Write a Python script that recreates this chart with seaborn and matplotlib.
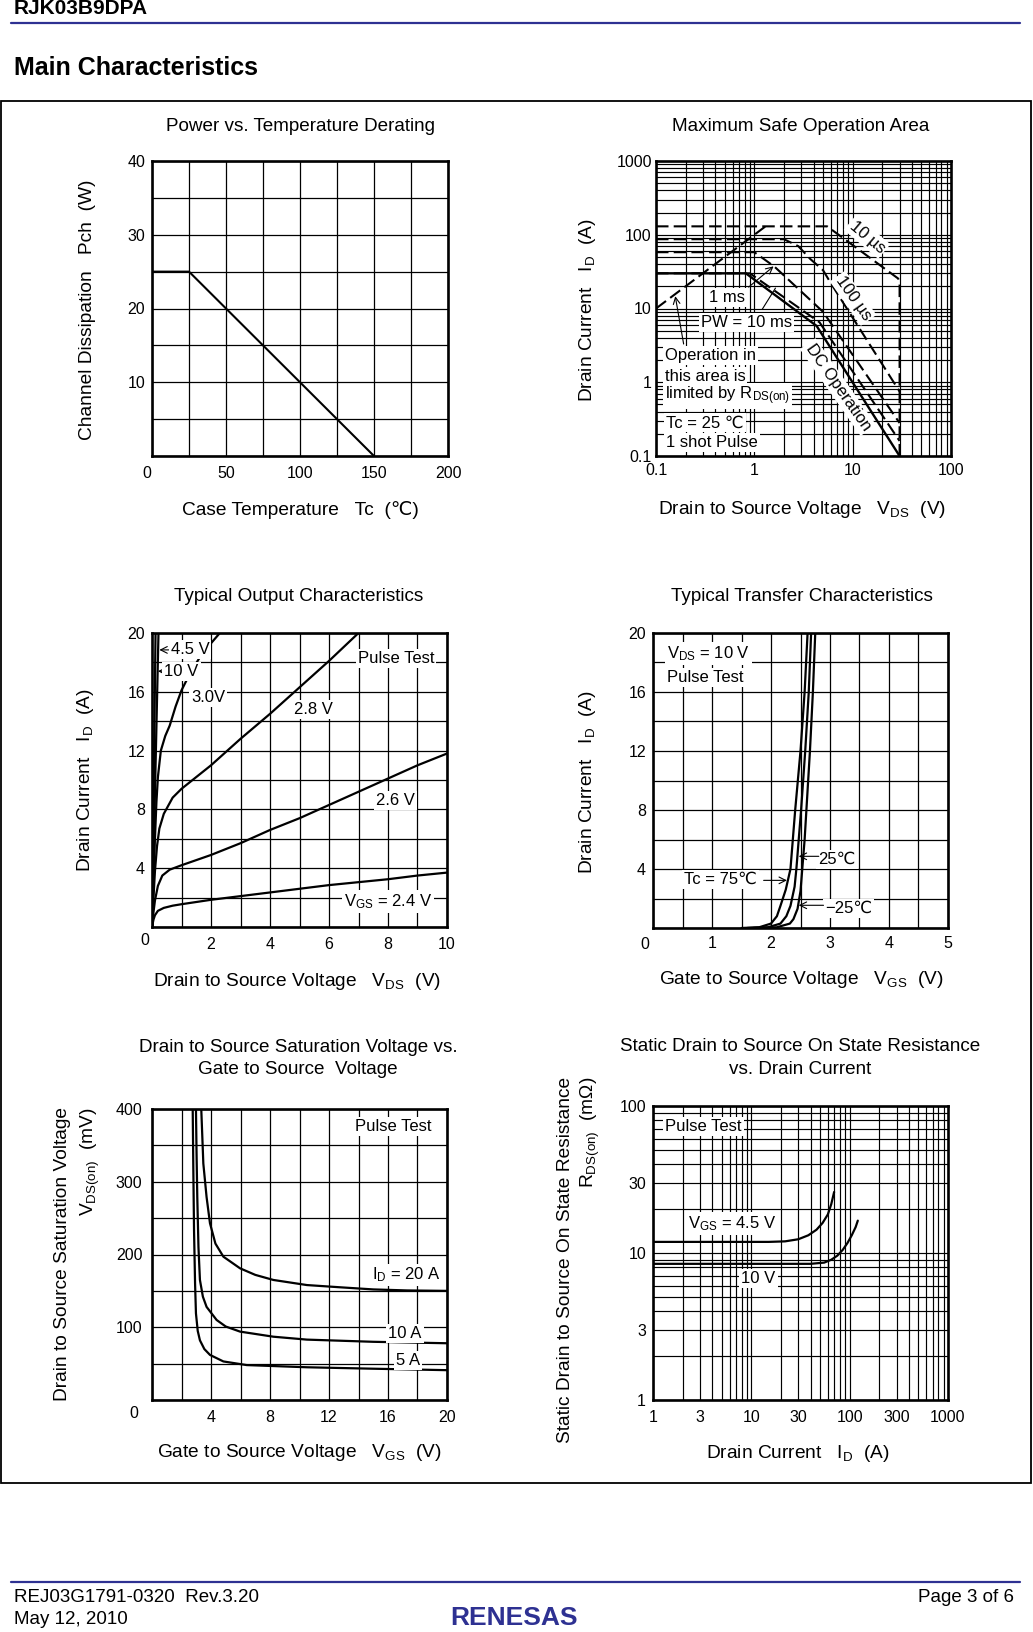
import numpy as np
import pandas as pd
import matplotlib
matplotlib.use("Agg")
import matplotlib.pyplot as plt
import seaborn as sns
from matplotlib.patches import Rectangle
from matplotlib.lines import Line2D

# ------------------------------------------------------------------ data
# Power vs. temperature derating
derate_tc = [0, 25, 150]
derate_pch = [25, 25, 0]
derate_xgrid = [0, 25, 50, 75, 100, 125, 150, 175, 200]
derate_xticks = [50, 100, 150, 200]
derate_ygrid = [0, 5, 10, 15, 20, 25, 30, 35, 40]
derate_yticks = [10, 20, 30, 40]

# Maximum safe operation area
soa_rds_v = [0.1, 1.3]
soa_rds_i = [10, 130]
soa_10us_v = [0.1, 5.5, 29.0, 30.0, 30.0]
soa_10us_i = [130, 130, 25.5, 23, 0.1]
soa_100us_v = [0.1, 2.0, 2.8, 3.7, 5.0, 6.0, 14.0, 30.0]
soa_100us_i = [87, 87, 70, 47, 33, 22, 3.7, 0.75]
soa_1ms_v = [0.1, 1.0, 1.6, 5.0, 30.0]
soa_1ms_i = [58, 58, 37, 9.0, 0.28]
soa_10ms_v = [0.1, 0.9, 4.6, 30.0]
soa_10ms_i = [30, 30, 6.5, 0.16]
soa_dc_v = [0.1, 0.82, 4.3, 30.0]
soa_dc_i = [30, 30, 5.8, 0.1]
soa_ticks = [0.1, 1, 10, 100, 1000]
soa_ticklabels = ["0.1", "1", "10", "100", "1000"]

# Typical output characteristics (VDS, ID)
out_10v_v = [0, 0.12]
out_10v_i = [0, 20]
out_45v_v = [0, 0.22]
out_45v_i = [0, 20]
out_30v_v = [0, 0.05, 0.1, 0.15, 0.2, 0.3, 0.45, 0.6, 0.8, 1.0, 1.3, 1.7, 2.3]
out_30v_i = [0, 3, 6, 8.5, 10.2, 12.0, 13.0, 13.7, 15.0, 16.1, 17.3, 18.6, 20]
out_28v_v = [0, 0.05, 0.1, 0.17, 0.25, 0.4, 0.7, 1.0, 1.5, 2, 3, 4, 5, 6, 7]
out_28v_i = [0, 2, 3.8, 5.5, 6.7, 7.7, 8.8, 9.4, 10.2, 11.0, 12.8, 14.5, 16.3, 18.1, 20]
out_26v_v = [0, 0.05, 0.1, 0.2, 0.35, 0.6, 1, 2, 3, 4, 5, 6, 7, 8, 9, 10]
out_26v_i = [0, 1.0, 1.8, 2.8, 3.5, 3.9, 4.2, 4.9, 5.7, 6.6, 7.4, 8.3, 9.2, 10.1, 11.0, 11.8]
out_24v_v = [0, 0.05, 0.1, 0.2, 0.4, 0.7, 1, 2, 3, 4, 5, 6, 7, 8, 9, 10]
out_24v_i = [0, 0.5, 0.8, 1.1, 1.3, 1.45, 1.55, 1.85, 2.1, 2.35, 2.6, 2.85, 3.05, 3.25, 3.5, 3.7]

# Typical transfer characteristics (VGS, ID)
tr_75_v = [1.5, 1.8, 2.0, 2.1, 2.16, 2.25, 2.33, 2.37, 2.41, 2.5, 2.57, 2.62]
tr_75_i = [0, 0.05, 0.3, 0.8, 1.5, 2.6, 4, 6, 8, 12, 16, 20]
tr_25_v = [1.6, 1.95, 2.16, 2.26, 2.33, 2.4, 2.43, 2.47, 2.51, 2.58, 2.64, 2.68]
tr_25_i = [0, 0.05, 0.3, 0.8, 1.5, 2.8, 4, 6, 8, 12, 16, 20]
tr_m25_v = [1.7, 2.1, 2.32, 2.38, 2.45, 2.5, 2.53, 2.57, 2.60, 2.66, 2.71, 2.75]
tr_m25_i = [0, 0.05, 0.3, 0.6, 1.3, 2.5, 4, 6, 8, 12, 16, 20]

# Drain to source saturation voltage vs gate to source voltage (VGS, mV)
sat_20a_v = [3.34, 3.48, 3.7, 3.93, 4.3, 4.84, 5.97, 7.0, 8.23, 10.5, 12.7, 15.0, 17.3, 20]
sat_20a_mv = [400, 325, 279, 243, 215, 197, 181, 172, 165, 158, 155, 152, 150.6, 150]
sat_10a_v = [2.98, 3.02, 3.07, 3.15, 3.25, 3.45, 3.7, 4.38, 5.0, 5.97, 8.23, 10.5, 15, 20]
sat_10a_mv = [400, 340, 279, 210, 165, 142, 128, 110, 101, 94, 87, 83, 80, 78]
sat_5a_v = [2.76, 2.8, 2.85, 2.92, 2.98, 3.1, 3.25, 3.55, 3.93, 4.84, 6.42, 10.5, 15, 20]
sat_5a_mv = [400, 320, 233, 160, 119, 95, 82, 70, 62, 53, 48, 45, 43, 41]

# Static drain to source on-state resistance vs drain current (A, mOhm)
rds_45_id = [1, 15, 22, 30, 38, 46, 53, 60, 65, 69.5]
rds_45_r = [11.9, 11.9, 12.0, 12.4, 13.2, 14.4, 16.0, 18.3, 21.5, 26]
rds_10_id = [1, 40, 55, 65, 75, 85, 95, 105, 115, 121]
rds_10_r = [8.44, 8.44, 8.6, 9.0, 9.6, 10.5, 11.7, 13.2, 15.0, 16.6]
rds_xticks = [1, 3, 10, 30, 100, 300, 1000]
rds_xticklabels = ["1", "3", "10", "30", "100", "300", "1000"]
rds_yticks = [1, 3, 10, 30, 100]
rds_yticklabels = ["1", "3", "10", "30", "100"]

# ------------------------------------------------------------------ style
sns.set_theme(style="white")
plt.rcParams["font.family"] = ["Liberation Sans", "DejaVu Sans"]
plt.rcParams["mathtext.fontset"] = "custom"
plt.rcParams["mathtext.rm"] = "Liberation Sans"
plt.rcParams["mathtext.it"] = "Liberation Sans:italic"
plt.rcParams["mathtext.bf"] = "Liberation Sans:bold"
for k in ["text.color", "axes.labelcolor", "xtick.color", "ytick.color", "axes.edgecolor"]:
    plt.rcParams[k] = "black"

W, H = 1033, 1632
fig = plt.figure(figsize=(W / 100, H / 100), dpi=100)
fig.patch.set_facecolor("white")

TITLE = 13.6
LABEL = 13.8
TICK = 11.5
ANN = 12
NAVY = "#2E3192"
CURVE_LW = 1.6
DASH = (0, (6, 2.5))
BOX = dict(boxstyle="square,pad=0.12", fc="white", ec="none")
SUBS = [2, 3, 4, 5, 6, 7, 8, 9]


def add_ax(x0, y0, x1, y1):
    return fig.add_axes([x0 / W, 1 - y1 / H, (x1 - x0) / W, (y1 - y0) / H])


def ftext(x, y, s, **kw):
    return fig.text(x / W, 1 - y / H, s, **kw)


def frame(ax, xpad=6, ypad=5, glw=0.9):
    ax.set_axisbelow(True)
    ax.grid(True, which="both", color="black", lw=glw)
    ax.tick_params(which="both", length=0, labelsize=TICK, colors="black")
    ax.tick_params(axis="x", which="both", pad=xpad)
    ax.tick_params(axis="y", which="both", pad=ypad)
    for sp in ax.spines.values():
        sp.set_visible(True)
        sp.set_linewidth(1.9)
        sp.set_color("black")
        sp.set_zorder(5)


def linear_axes(ax, xlim, ylim, xgrid, ygrid, xticks, yticks, xpad=6, ypad=5):
    ax.set_xlim(*xlim)
    ax.set_ylim(*ylim)
    ax.set_xticks(xgrid, minor=True)
    ax.set_yticks(ygrid, minor=True)
    ax.set_xticks(xticks)
    ax.set_xticklabels([str(v) for v in xticks])
    ax.set_yticks(yticks)
    ax.set_yticklabels([str(v) for v in yticks])
    frame(ax, xpad, ypad)


def log_axes(ax, xlim, ylim, xticks, xlabels, yticks, ylabels, xpad, ypad):
    ax.set_xlim(*xlim)
    ax.set_ylim(*ylim)
    ax.xaxis.set_major_locator(matplotlib.ticker.FixedLocator(xticks))
    ax.xaxis.set_major_formatter(matplotlib.ticker.FixedFormatter(xlabels))
    ax.xaxis.set_minor_locator(matplotlib.ticker.LogLocator(base=10, subs=SUBS))
    ax.xaxis.set_minor_formatter(matplotlib.ticker.NullFormatter())
    ax.yaxis.set_major_locator(matplotlib.ticker.FixedLocator(yticks))
    ax.yaxis.set_major_formatter(matplotlib.ticker.FixedFormatter(ylabels))
    ax.yaxis.set_minor_locator(matplotlib.ticker.LogLocator(base=10, subs=SUBS))
    ax.yaxis.set_minor_formatter(matplotlib.ticker.NullFormatter())
    frame(ax, xpad, ypad, glw=0.85)


def curve(ax, x, y, ls="-", lw=CURVE_LW):
    sns.lineplot(x=np.array(x, float), y=np.array(y, float), ax=ax, color="black",
                 linewidth=lw, linestyle=ls, sort=False, estimator=None)


# ------------------------------------------------------------------ page header / footer
ftext(14, 9, "RJK03B9DPA", fontsize=15, fontweight="bold", va="center", ha="left")
fig.add_artist(Line2D([11 / W, 1020 / W], [1 - 22.7 / H] * 2, color=NAVY, lw=1.6))
ftext(14, 68, "Main Characteristics", fontsize=18, fontweight="bold", va="center", ha="left")
fig.add_artist(Rectangle((0.8 / W, 1 - 1483 / H), 1030.5 / W, 1382 / H, fill=False,
                         ec="black", lw=1.3))
fig.add_artist(Line2D([11 / W, 1020 / W], [1 - 1582 / H] * 2, color=NAVY, lw=1.6))
ftext(14, 1597, "REJ03G1791-0320  Rev.3.20", fontsize=13.5, va="center", ha="left")
ftext(14, 1619, "May 12, 2010", fontsize=13.5, va="center", ha="left")
ftext(1014, 1597, "Page 3 of 6", fontsize=13.5, va="center", ha="right")
ftext(514, 1618, "RENESAS", fontsize=19, fontweight="bold", color=NAVY, va="center",
      ha="center")

# ------------------------------------------------------------------ 1. derating
ax1 = add_ax(152, 161, 448, 456)
curve(ax1, derate_tc, derate_pch, lw=1.5)
linear_axes(ax1, (0, 200), (0, 40), derate_xgrid, derate_ygrid, derate_xticks,
            derate_yticks, xpad=7, ypad=5)
ftext(147, 473, "0", fontsize=TICK, ha="center", va="center")
ftext(300, 126.7, "Power vs. Temperature Derating", fontsize=TITLE, ha="center", va="center")
ftext(300, 510, "Case Temperature   Tc  (\u2103)", fontsize=LABEL, ha="center", va="center")
ftext(87, 310, "Channel Dissipation   Pch  (W)", fontsize=LABEL, ha="center", va="center",
      rotation=90)

# ------------------------------------------------------------------ 2. SOA
ax2 = add_ax(656, 161, 951, 456)
ax2.set_xscale("log")
ax2.set_yscale("log")
curve(ax2, soa_rds_v, soa_rds_i, ls=DASH, lw=1.5)
curve(ax2, soa_10us_v, soa_10us_i, ls=DASH, lw=1.5)
curve(ax2, soa_100us_v, soa_100us_i, ls=DASH, lw=1.5)
curve(ax2, soa_1ms_v, soa_1ms_i, ls=DASH, lw=1.5)
curve(ax2, soa_10ms_v, soa_10ms_i, ls=DASH, lw=1.5)
curve(ax2, soa_dc_v, soa_dc_i, lw=1.7)
log_axes(ax2, (0.1, 100), (0.1, 1000), soa_ticks[:4], soa_ticklabels[:4], soa_ticks,
         soa_ticklabels, xpad=5, ypad=3)
ax2.text(14, 93, "10 \u00b5s", fontsize=ANN, rotation=-40, ha="center", va="center", bbox=BOX)
ax2.text(10.1, 13.8, "100 \u00b5s", fontsize=ANN, rotation=-55, ha="center", va="center", bbox=BOX)
ax2.text(7.1, 0.86, "DC Operation", fontsize=ANN, rotation=-55, ha="center", va="center", bbox=BOX)
ax2.text(0.53, 14.3, "1 ms", fontsize=ANN, ha="center", va="center", bbox=BOX)
ax2.text(0.83, 6.5, "PW = 10 ms", fontsize=ANN, ha="center", va="center", bbox=BOX)
ax2.annotate("", xy=(1.57, 37.3), xytext=(0.875, 19.5),
             arrowprops=dict(arrowstyle="->", lw=0.8, color="black", shrinkA=0, shrinkB=0))
ax2.annotate("", xy=(1.64, 18.9), xytext=(1.2, 9.7),
             arrowprops=dict(arrowstyle="-", lw=0.8, color="black", shrinkA=0, shrinkB=0))
ax2.annotate("", xy=(0.157, 14.7), xytext=(0.191, 3.3),
             arrowprops=dict(arrowstyle="->", lw=0.8, color="black", shrinkA=0, shrinkB=0))
ax2.text(0.1223, 2.31, "Operation in", fontsize=ANN, ha="left", va="center", bbox=BOX)
ax2.text(0.1223, 1.21, "this area is", fontsize=ANN, ha="left", va="center", bbox=BOX)
ax2.text(0.1223, 0.647, "limited by R$_\\mathrm{DS(on)}$", fontsize=ANN, ha="left",
         va="center", bbox=BOX)
ax2.text(0.1273, 0.282, "Tc = 25 \u2103", fontsize=ANN, ha="left", va="center", bbox=BOX)
ax2.text(0.1273, 0.151, "1 shot Pulse", fontsize=ANN, ha="left", va="center", bbox=BOX)
ftext(801, 126.7, "Maximum Safe Operation Area", fontsize=TITLE, ha="center", va="center")
ftext(802, 510, "Drain to Source Voltage   V$_\\mathrm{DS}$  (V)", fontsize=LABEL,
      ha="center", va="center")
ftext(588, 310, "Drain Current   I$_\\mathrm{D}$  (A)", fontsize=LABEL, ha="center",
      va="center", rotation=90)

# ------------------------------------------------------------------ 3. output characteristics
ax3 = add_ax(152, 633, 447, 927)
for xs, ys in [(out_10v_v, out_10v_i), (out_45v_v, out_45v_i), (out_30v_v, out_30v_i),
               (out_28v_v, out_28v_i), (out_26v_v, out_26v_i), (out_24v_v, out_24v_i)]:
    curve(ax3, xs, ys)
linear_axes(ax3, (0, 10), (0, 20), list(range(0, 11)), list(range(0, 21, 2)),
            [2, 4, 6, 8, 10], [4, 8, 12, 16, 20], xpad=7, ypad=5)
ax3.annotate("4.5 V", xy=(0.25, 18.85), xytext=(1.29, 18.85), fontsize=ANN, ha="center",
             va="center", bbox=BOX,
             arrowprops=dict(arrowstyle="->", lw=0.8, color="black", shrinkA=18, shrinkB=0))
ax3.annotate("10 V", xy=(0.2, 17.4), xytext=(1.0, 17.4), fontsize=ANN, ha="center",
             va="center", bbox=BOX,
             arrowprops=dict(arrowstyle="->", lw=0.8, color="black", shrinkA=14, shrinkB=0))
ax3.text(1.91, 15.6, "3.0V", fontsize=ANN, ha="center", va="center", bbox=BOX)
ax3.text(5.47, 14.8, "2.8 V", fontsize=ANN, ha="center", va="center", bbox=BOX)
ax3.text(8.24, 8.6, "2.6 V", fontsize=ANN, ha="center", va="center", bbox=BOX)
ax3.text(8.27, 18.26, "Pulse Test", fontsize=ANN, ha="center", va="center", bbox=BOX)
ax3.text(8.01, 1.74, "V$_\\mathrm{GS}$ = 2.4 V", fontsize=ANN, ha="center", va="center", bbox=BOX)
ftext(145, 941, "0", fontsize=TICK, ha="center", va="center")
ftext(299, 596.7, "Typical Output Characteristics", fontsize=TITLE, ha="center", va="center")
ftext(297, 981.7, "Drain to Source Voltage   V$_\\mathrm{DS}$  (V)", fontsize=LABEL,
      ha="center", va="center")
ftext(85, 780, "Drain Current   I$_\\mathrm{D}$  (A)", fontsize=LABEL, ha="center",
      va="center", rotation=90)

# ------------------------------------------------------------------ 4. transfer characteristics
ax4 = add_ax(653, 633, 948, 928)
for xs, ys in [(tr_75_v, tr_75_i), (tr_25_v, tr_25_i), (tr_m25_v, tr_m25_i)]:
    curve(ax4, xs, ys)
linear_axes(ax4, (0, 5), (0, 20), list(np.arange(0, 5.01, 0.5)), list(range(0, 21, 2)),
            [1, 2, 3, 4, 5], [4, 8, 12, 16, 20], xpad=6, ypad=5)
ax4.text(0.237, 18.6, "V$_\\mathrm{DS}$ = 10 V", fontsize=ANN, ha="left", va="center", bbox=BOX)
ax4.text(0.237, 17.0, "Pulse Test", fontsize=ANN, ha="left", va="center", bbox=BOX)
ax4.text(3.12, 4.64, "25\u2103", fontsize=ANN, ha="center", va="center", bbox=BOX)
ax4.annotate("", xy=(2.47, 4.86), xytext=(2.81, 4.86),
             arrowprops=dict(arrowstyle="->", lw=0.8, color="black", shrinkA=0, shrinkB=0))
ax4.text(1.14, 3.28, "Tc = 75\u2103", fontsize=ANN, ha="center", va="center", bbox=BOX)
ax4.annotate("", xy=(2.27, 3.23), xytext=(1.875, 3.23),
             arrowprops=dict(arrowstyle="->", lw=0.8, color="black", shrinkA=0, shrinkB=0))
ax4.text(3.32, 1.31, "\u221225\u2103", fontsize=ANN, ha="center", va="center", bbox=BOX)
ax4.annotate("", xy=(2.47, 1.54), xytext=(2.89, 1.54),
             arrowprops=dict(arrowstyle="->", lw=0.8, color="black", shrinkA=0, shrinkB=0))
ftext(645, 944, "0", fontsize=TICK, ha="center", va="center")
ftext(802, 596.7, "Typical Transfer Characteristics", fontsize=TITLE, ha="center", va="center")
ftext(801, 980, "Gate to Source Voltage   V$_\\mathrm{GS}$  (V)", fontsize=LABEL,
      ha="center", va="center")
ftext(588, 782, "Drain Current   I$_\\mathrm{D}$  (A)", fontsize=LABEL, ha="center",
      va="center", rotation=90)

# ------------------------------------------------------------------ 5. saturation voltage
ax5 = add_ax(152, 1109, 447, 1400)
for xs, ys in [(sat_20a_v, sat_20a_mv), (sat_10a_v, sat_10a_mv), (sat_5a_v, sat_5a_mv)]:
    curve(ax5, xs, ys)
linear_axes(ax5, (0, 20), (0, 400), list(range(0, 21, 2)), list(range(0, 401, 50)),
            [4, 8, 12, 16, 20], [100, 200, 300, 400], xpad=7, ypad=7)
ax5.text(16.36, 375.7, "Pulse Test", fontsize=ANN, ha="center", va="center", bbox=BOX)
ax5.text(17.27, 171.8, "I$_\\mathrm{D}$ = 20 A", fontsize=ANN, ha="center", va="center", bbox=BOX)
ax5.text(17.15, 91.7, "10 A", fontsize=ANN, ha="center", va="center", bbox=BOX)
ax5.text(17.38, 54, "5 A", fontsize=ANN, ha="center", va="center", bbox=BOX)
ftext(134, 1413, "0", fontsize=TICK, ha="center", va="center")
ftext(298, 1048, "Drain to Source Saturation Voltage vs.", fontsize=TITLE, ha="center",
      va="center")
ftext(298, 1070, "Gate to Source  Voltage", fontsize=TITLE, ha="center", va="center")
ftext(299, 1452.7, "Gate to Source Voltage   V$_\\mathrm{GS}$  (V)", fontsize=LABEL,
      ha="center", va="center")
ftext(63, 1107, "Drain to Source Saturation Voltage", fontsize=LABEL, ha="center",
      va="top", rotation=90)
ftext(90, 1107, "V$_\\mathrm{DS(on)}$  (mV)", fontsize=LABEL, ha="center", va="top",
      rotation=90)

# ------------------------------------------------------------------ 6. on-state resistance
ax6 = add_ax(653, 1106, 948, 1400)
ax6.set_xscale("log")
ax6.set_yscale("log")
curve(ax6, rds_45_id, rds_45_r)
curve(ax6, rds_10_id, rds_10_r)
log_axes(ax6, (1, 1000), (1, 100), rds_xticks, rds_xticklabels, rds_yticks,
         rds_yticklabels, xpad=7, ypad=5)
ax6.text(3.27, 72.3, "Pulse Test", fontsize=ANN, ha="center", va="center", bbox=BOX)
ax6.text(6.35, 15.96, "V$_\\mathrm{GS}$ = 4.5 V", fontsize=ANN, ha="center", va="center", bbox=BOX)
ax6.text(11.8, 6.75, "10 V", fontsize=ANN, ha="center", va="center", bbox=BOX)
ftext(800, 1046.7, "Static Drain to Source On State Resistance", fontsize=TITLE,
      ha="center", va="center")
ftext(800, 1070, "vs. Drain Current", fontsize=TITLE, ha="center", va="center")
ftext(798, 1453, "Drain Current   I$_\\mathrm{D}$  (A)", fontsize=LABEL, ha="center",
      va="center")
ftext(565, 1077, "Static Drain to Source On State Resistance", fontsize=LABEL,
      ha="center", va="top", rotation=90)
ftext(590, 1077, "R$_\\mathrm{DS(on)}$  (m\u03a9)", fontsize=LABEL, ha="center", va="top",
      rotation=90)

fig.savefig("out.png", dpi=100, facecolor="white")
